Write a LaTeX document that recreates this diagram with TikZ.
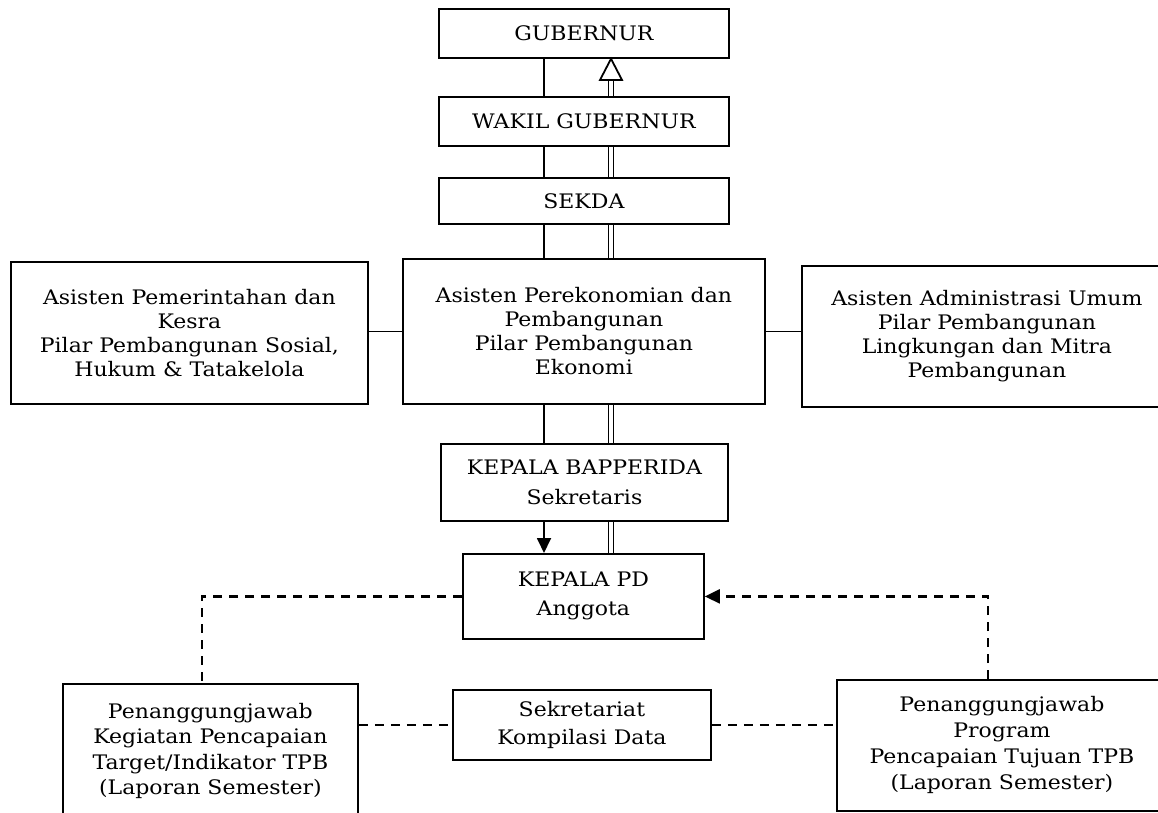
\documentclass[tikz,border=0pt]{standalone}
\usepackage{fontspec}
\setmainfont{DejaVu Serif}[FakeStretch=1.1]
\usetikzlibrary{arrows.meta}
\begin{document}
\begin{tikzpicture}[x=1pt,y=-1pt,
  box/.style={draw, line width=1.8pt, align=center, inner sep=0pt, anchor=north west,
    font=\fontsize{20}{24}\selectfont},
  ln/.style={line width=1.8pt},
  dbl/.style={double, double distance=3.6pt, line width=1.4pt},
  dsh/.style={line width=2.2pt, dash pattern=on 9pt off 7pt},
  tip/.style={-{Triangle[width=14pt,length=15pt]}}
]
\useasboundingbox (0,0) rectangle (1158,813);
\node[box, minimum width=290pt, minimum height=49pt] (gub) at (438,8) {GUBERNUR};
\node[box, minimum width=290pt, minimum height=49pt] (wakil) at (438,96) {WAKIL GUBERNUR};
\node[box, minimum width=290pt, minimum height=46pt] (sekda) at (438,177) {SEKDA};
\node[box, minimum width=357pt, minimum height=142pt] (asleft) at (10,261)
  {Asisten Pemerintahan dan\\Kesra\\Pilar Pembangunan Sosial,\\Hukum \& Tatakelola};
\node[box, minimum width=362pt, minimum height=145pt] (asmid) at (402,258)
  {Asisten Perekonomian dan\\Pembangunan\\Pilar Pembangunan\\Ekonomi};
\node[box, minimum width=370pt, minimum height=141pt] (asright) at (801,265)
  {Asisten Administrasi Umum\\Pilar Pembangunan\\Lingkungan dan Mitra\\Pembangunan};
\node[box, minimum width=287pt, minimum height=77pt, font=\fontsize{20}{30}\selectfont] (bapp) at (440,443)
  {KEPALA BAPPERIDA\\Sekretaris};
\node[box, minimum width=241pt, minimum height=85pt, font=\fontsize{20}{29}\selectfont] (pd) at (462,553)
  {KEPALA PD\\Anggota};
\node[box, minimum width=295pt, minimum height=134pt, font=\fontsize{20}{25.5}\selectfont] (pjleft) at (62,683)
  {Penanggungjawab\\Kegiatan Pencapaian\\Target/Indikator TPB\\(Laporan Semester)};
\node[box, minimum width=258pt, minimum height=70pt, font=\fontsize{20}{28}\selectfont] (sek) at (452,689)
  {Sekretariat\\Kompilasi Data};
\node[box, minimum width=330pt, minimum height=131pt, font=\fontsize{20}{26}\selectfont] (pjright) at (836,679)
  {Penanggungjawab\\Program\\Pencapaian Tujuan TPB\\(Laporan Semester)};
% x positions of the vertical lines
\coordinate (sx) at (544,0);
\coordinate (dx) at (611,0);
\coordinate (lx) at (202,0);
\coordinate (rx) at (988,0);
\coordinate (ab) at (611,80);
% single lines
\draw[ln] (gub.south -| sx) -- (wakil.north -| sx);
\draw[ln] (wakil.south -| sx) -- (sekda.north -| sx);
\draw[ln] (sekda.south -| sx) -- (asmid.north -| sx);
\draw[ln] (asmid.south -| sx) -- (bapp.north -| sx);
\draw[ln, tip] (bapp.south -| sx) -- (pd.north -| sx);
% double lines
\draw[dbl] (wakil.north -| dx) -- (ab);
\draw[ln, fill=white, line join=miter] ([xshift=-11pt]ab) -- (gub.south -| dx) -- ([xshift=11pt]ab) -- cycle;
\draw[dbl] (sekda.north -| dx) -- (wakil.south -| dx);
\draw[dbl] (asmid.north -| dx) -- (sekda.south -| dx);
\draw[dbl] (bapp.north -| dx) -- (asmid.south -| dx);
\draw[dbl] (pd.north -| dx) -- (bapp.south -| dx);
% side lines
\draw[ln] (asleft.east |- asmid.west) -- (asmid.west);
\draw[ln] (asmid.east) -- (asright.west |- asmid.east);
% dashed lines
\draw[dsh] (pd.west) -| (lx |- pjleft.north);
\draw[dsh, tip] (rx |- pjright.north) |- (pd.east);
\draw[dsh] (pjleft.east |- sek.west) -- (sek.west);
\draw[dsh] (sek.east) -- (pjright.west |- sek.east);
\end{tikzpicture}
\end{document}
